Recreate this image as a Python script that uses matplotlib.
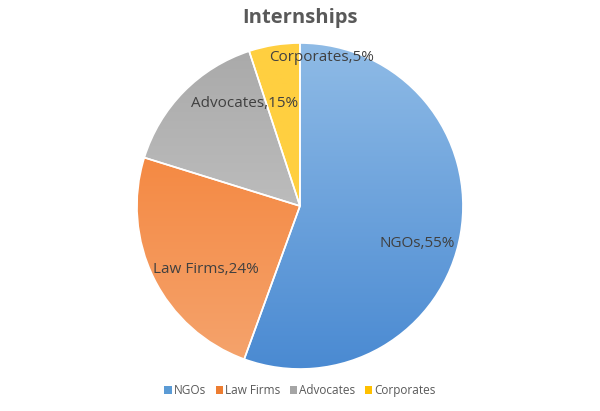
import matplotlib
matplotlib.use("Agg")
import matplotlib.pyplot as plt
import numpy as np
from matplotlib.colors import LinearSegmentedColormap
from matplotlib.patches import Patch

categories = ["NGOs", "Law Firms", "Advocates", "Corporates"]
values = [55, 24, 15, 5]
base_colors = ["#5b9bd5", "#ed7d31", "#a5a5a5", "#ffc000"]
grad = [("#8fbbe6", "#4a8ad2"), ("#f57b2c", "#f4a46e"), ("#a9a9a9", "#cfcfcf"), ("#ffcf40", "#ffcf40")]
label_pos = [(0.72, -0.23), (-0.58, -0.39), (-0.34, 0.63), (0.13, 0.91)]

fig = plt.figure(figsize=(6, 4.11), dpi=100)
ax = fig.add_axes([0.2283, 0.1022, 0.5433, 0.7932])
wedges, _ = ax.pie(values, startangle=90, counterclock=False, colors=base_colors,
                   wedgeprops=dict(edgecolor="white", linewidth=1.2))
for w, (c1, c2) in zip(wedges, grad):
    cmap = LinearSegmentedColormap.from_list("g", [c1, c2])
    im = ax.imshow(np.linspace(0, 1, 256).reshape(-1, 1), cmap=cmap, extent=[-1, 1, -1, 1],
                   origin="upper", aspect="auto", zorder=w.get_zorder() + 0.1)
    im.set_clip_path(w)
    w.set_facecolor("none")
    w.set_zorder(w.get_zorder() + 0.2)
for cat, v, (x, y) in zip(categories, values, label_pos):
    ax.text(x, y, f"{cat},{v}%", ha="center", va="center", fontsize=11,
            color="#404040", family="Open Sans", zorder=10)
ax.set_xlim(-1, 1)
ax.set_ylim(-1, 1)
ax.set_aspect("equal")
ax.axis("off")

fig.text(0.5, 0.955, "Internships", ha="center", va="center", fontsize=14.5,
         fontweight="bold", color="#595959", family="Open Sans")
handles = [Patch(facecolor=c, edgecolor="none") for c in base_colors]
fig.legend(handles, categories, loc="center", bbox_to_anchor=(0.5, 0.05), ncol=4,
           frameon=False, handlelength=0.6, handleheight=0.6,
           handletextpad=0.2, columnspacing=0.8, prop=dict(family="Open Sans", size=8.5),
           labelcolor="#595959")
fig.savefig("out.png", dpi=100)
